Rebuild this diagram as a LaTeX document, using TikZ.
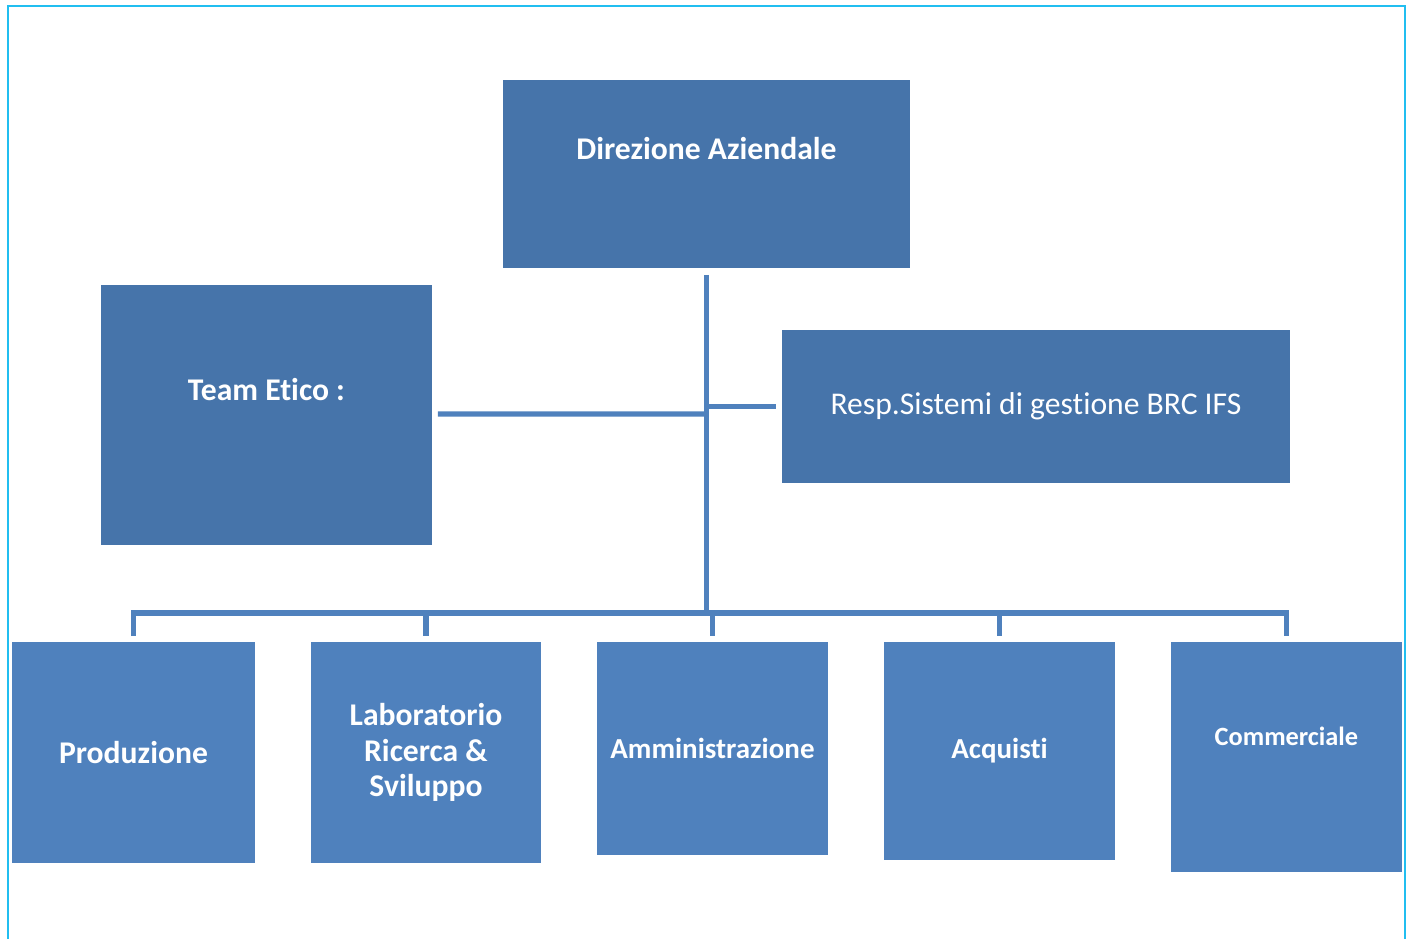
\documentclass[tikz,border=0pt]{standalone}
\usepackage{fontspec}
\setmainfont{Carlito}[Ligatures=NoCommon]
\definecolor{topblue}{HTML}{4674AA}
\definecolor{botblue}{HTML}{4F81BD}
\definecolor{framecyan}{HTML}{21BEF0}
\begin{document}
\begin{tikzpicture}[x=0.02cm,y=-0.02cm,line width=2.9pt,
  box/.style={anchor=north west,inner sep=0pt,outer sep=0pt,draw=none,text=white,align=center,font=\bfseries\fontsize{18}{20}\selectfont},
  topbox/.style={box,fill=topblue},
  botbox/.style={box,fill=botblue},
  ttl/.style={text=white,align=center,font=\bfseries\fontsize{18}{20}\selectfont},
  link/.style={draw=botblue}]
\useasboundingbox (0,0) rectangle (1410,939);
\draw[framecyan,line width=1.2pt] (8,939) -- (8,6) -- (1405,6) -- (1405,939);

% upper level
\node[topbox,minimum width=8.14cm,minimum height=3.76cm,label={[ttl,yshift=0.5cm]center:Direzione Aziendale}] (dir) at (503,80) {};
\node[topbox,minimum width=6.62cm,minimum height=5.2cm,label={[ttl,yshift=0.5cm]center:Team Etico :}] (team) at (101,285) {};
\node[topbox,minimum width=10.16cm,minimum height=3.06cm,font=\fontsize{18}{20}\selectfont] (resp) at (782,330) {Resp.Sistemi di gestione BRC IFS};

% departments
\node[botbox,minimum width=4.86cm,minimum height=4.42cm] (prod) at (12,642) {Produzione};
\node[botbox,minimum width=4.6cm,minimum height=4.42cm] (lab) at (311,642) {Laboratorio\\Ricerca \&\\Sviluppo};
\node[botbox,minimum width=4.62cm,minimum height=4.26cm,font=\bfseries\fontsize{16.5}{18}\selectfont] (amm) at (597,642) {Amministrazione};
\node[botbox,minimum width=4.62cm,minimum height=4.36cm,font=\bfseries\fontsize{16.5}{18}\selectfont] (acq) at (884,642) {Acquisti};
\node[botbox,minimum width=4.62cm,minimum height=4.6cm,label={[ttl,yshift=0.42cm,font=\bfseries\fontsize{15}{17}\selectfont]center:Commerciale}] (comm) at (1171,642) {};

% connectors
\coordinate (bus) at (dir.south |- 0,613);
\draw[link] (dir.south) ++(0,7) -- (bus);
\draw[link] (team.east) ++(6,-1) -- (bus |- 0,414);
\draw[link] (resp.west -| bus) -- ([xshift=-0.12cm]resp.west);
\draw[link] ([yshift=0.12cm]prod.north) -- (prod.north |- bus) -- (comm.north |- bus) -- ([yshift=0.12cm]comm.north);
\foreach \d in {lab,amm,acq} \draw[link] (\d.north |- bus) -- ([yshift=0.12cm]\d.north);
\end{tikzpicture}
\end{document}
